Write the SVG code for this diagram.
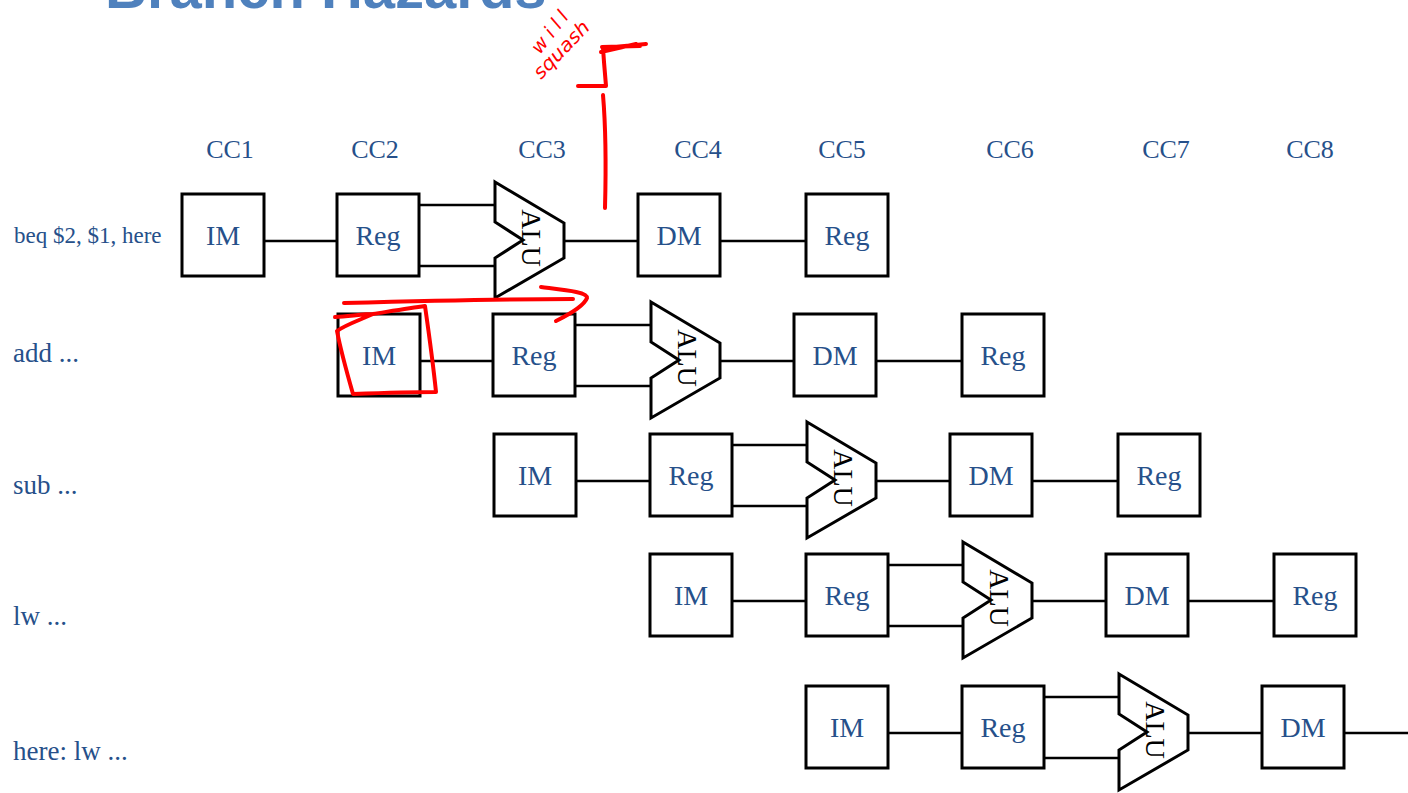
<svg xmlns="http://www.w3.org/2000/svg" width="1408" height="793" viewBox="0 0 1408 793">
<style>
.bx{fill:#fff;stroke:#000;stroke-width:3}
.alu{fill:#fff;stroke:#000;stroke-width:3;stroke-linejoin:miter}
.ln{stroke:#000;stroke-width:2.5;fill:none}
.t{font-family:"Liberation Serif","Times New Roman",serif;fill:#26508A}
.bt{font-size:28px;text-anchor:middle}
.cc{font-size:26px;text-anchor:middle}
.lb{font-size:27px}
.at{font-family:"Liberation Serif","Times New Roman",serif;font-size:28px;fill:#000;text-anchor:middle}
.red{stroke:#FF0000;stroke-width:4;fill:none;stroke-linecap:round;stroke-linejoin:round}
.rt{font-family:"DejaVu Sans",sans-serif;font-style:italic;font-size:19px;fill:#FF0000}
</style>
<rect width="1408" height="793" fill="#fff"/>
<text x="105" y="8" font-family="Liberation Sans,Arial,sans-serif" font-weight="bold" font-size="58" fill="#4F81BD">Branch Hazards</text>

<g id="cc-labels" class="t cc">
<text x="230" y="158">CC1</text><text x="375" y="158">CC2</text><text x="542" y="158">CC3</text><text x="698" y="158">CC4</text>
<text x="842" y="158">CC5</text><text x="1010" y="158">CC6</text><text x="1166" y="158">CC7</text><text x="1310" y="158">CC8</text>
</g>
<g id="instr-labels" class="t">
<text x="14" y="243" font-size="23">beq $2, $1, here</text>
<text class="lb" x="13" y="362">add ...</text>
<text class="lb" x="13" y="494">sub ...</text>
<text class="lb" x="13" y="625">lw ...</text>
<text class="lb" x="13" y="760">here: lw ...</text>
</g>

<g id="connectors" class="ln">
<line x1="264" y1="241" x2="337" y2="241"/><line x1="419" y1="205" x2="495" y2="205"/><line x1="419" y1="266" x2="495" y2="266"/><line x1="564" y1="241" x2="638" y2="241"/><line x1="720" y1="241" x2="806" y2="241"/>
<line x1="420" y1="361" x2="493" y2="361"/><line x1="575" y1="325" x2="651" y2="325"/><line x1="575" y1="386" x2="651" y2="386"/><line x1="720" y1="361" x2="794" y2="361"/><line x1="876" y1="361" x2="962" y2="361"/>
<line x1="576" y1="481" x2="650" y2="481"/><line x1="731" y1="445" x2="807" y2="445"/><line x1="731" y1="506" x2="807" y2="506"/><line x1="876" y1="481" x2="950" y2="481"/><line x1="1032" y1="481" x2="1118" y2="481"/>
<line x1="732" y1="601" x2="806" y2="601"/><line x1="887" y1="565" x2="963" y2="565"/><line x1="887" y1="626" x2="963" y2="626"/><line x1="1032" y1="601" x2="1106" y2="601"/><line x1="1188" y1="601" x2="1274" y2="601"/>
<line x1="888" y1="733" x2="962" y2="733"/><line x1="1043" y1="697" x2="1119" y2="697"/><line x1="1043" y1="758" x2="1119" y2="758"/><line x1="1188" y1="733" x2="1262" y2="733"/><line x1="1344" y1="733" x2="1408" y2="733"/>
</g>

<!-- Row 1 -->
<g id="r1-im"><rect class="bx" x="182" y="194" width="82" height="82"/><text class="t bt" x="223" y="245">IM</text></g>
<g id="r1-reg"><rect class="bx" x="337" y="194" width="82" height="82"/><text class="t bt" x="378" y="245">Reg</text></g>
<g id="r1-alu"><polygon class="alu" points="495,182 564,223 564,258 495,298 495,258 523,240 495,222"/><text class="at" transform="translate(522,238) rotate(90)">ALU</text></g>
<g id="r1-dm"><rect class="bx" x="638" y="194" width="82" height="82"/><text class="t bt" x="679" y="245">DM</text></g>
<g id="r1-reg2"><rect class="bx" x="806" y="194" width="82" height="82"/><text class="t bt" x="847" y="245">Reg</text></g>

<!-- Row 2 -->
<g id="r2-im"><rect class="bx" x="338" y="314" width="82" height="82"/><text class="t bt" x="379" y="365">IM</text></g>
<g id="r2-reg"><rect class="bx" x="493" y="314" width="82" height="82"/><text class="t bt" x="534" y="365">Reg</text></g>
<g id="r2-alu"><polygon class="alu" points="651,302 720,343 720,378 651,418 651,378 679,360 651,342"/><text class="at" transform="translate(678,358) rotate(90)">ALU</text></g>
<g id="r2-dm"><rect class="bx" x="794" y="314" width="82" height="82"/><text class="t bt" x="835" y="365">DM</text></g>
<g id="r2-reg2"><rect class="bx" x="962" y="314" width="82" height="82"/><text class="t bt" x="1003" y="365">Reg</text></g>

<!-- Row 3 -->
<g id="r3-im"><rect class="bx" x="494" y="434" width="82" height="82"/><text class="t bt" x="535" y="485">IM</text></g>
<g id="r3-reg"><rect class="bx" x="650" y="434" width="82" height="82"/><text class="t bt" x="691" y="485">Reg</text></g>
<g id="r3-alu"><polygon class="alu" points="807,422 876,463 876,498 807,538 807,498 835,480 807,462"/><text class="at" transform="translate(834,478) rotate(90)">ALU</text></g>
<g id="r3-dm"><rect class="bx" x="950" y="434" width="82" height="82"/><text class="t bt" x="991" y="485">DM</text></g>
<g id="r3-reg2"><rect class="bx" x="1118" y="434" width="82" height="82"/><text class="t bt" x="1159" y="485">Reg</text></g>

<!-- Row 4 -->
<g id="r4-im"><rect class="bx" x="650" y="554" width="82" height="82"/><text class="t bt" x="691" y="605">IM</text></g>
<g id="r4-reg"><rect class="bx" x="806" y="554" width="82" height="82"/><text class="t bt" x="847" y="605">Reg</text></g>
<g id="r4-alu"><polygon class="alu" points="963,542 1032,583 1032,618 963,658 963,618 991,600 963,582"/><text class="at" transform="translate(990,598) rotate(90)">ALU</text></g>
<g id="r4-dm"><rect class="bx" x="1106" y="554" width="82" height="82"/><text class="t bt" x="1147" y="605">DM</text></g>
<g id="r4-reg2"><rect class="bx" x="1274" y="554" width="82" height="82"/><text class="t bt" x="1315" y="605">Reg</text></g>

<!-- Row 5 -->
<g id="r5-im"><rect class="bx" x="806" y="686" width="82" height="82"/><text class="t bt" x="847" y="737">IM</text></g>
<g id="r5-reg"><rect class="bx" x="962" y="686" width="82" height="82"/><text class="t bt" x="1003" y="737">Reg</text></g>
<g id="r5-alu"><polygon class="alu" points="1119,674 1188,715 1188,750 1119,790 1119,750 1147,732 1119,714"/><text class="at" transform="translate(1146,730) rotate(90)">ALU</text></g>
<g id="r5-dm"><rect class="bx" x="1262" y="686" width="82" height="82"/><text class="t bt" x="1303" y="737">DM</text></g>

<!-- Red annotations -->
<g id="annotations">
<path class="red" d="M578,86 L606,86 L604,62 L603,48 L646,44 M601,52 L636,44 M602,47 L640,46"/>
<path class="red" d="M603,95 C606,130 606,170 605,208"/>
<path class="red" d="M344,303 C420,301 500,299 573,299"/>
<path class="red" d="M541,287 C565,290 588,292 587,298 C584,306 570,314 556,321"/>
<path class="red" d="M335,317 C350,316 365,314 373,314 C360,320 345,325 337,331 C341,352 347,373 353,394 C380,393 410,392 436,392 C433,363 429,334 425,306 C410,308 392,311 373,314"/>
<text class="rt" transform="translate(540,55) rotate(-52)" textLength="48" lengthAdjust="spacing">will</text>
<text class="rt" transform="translate(541,80) rotate(-46)" textLength="72" lengthAdjust="spacingAndGlyphs">squash</text>
</g>
</svg>
